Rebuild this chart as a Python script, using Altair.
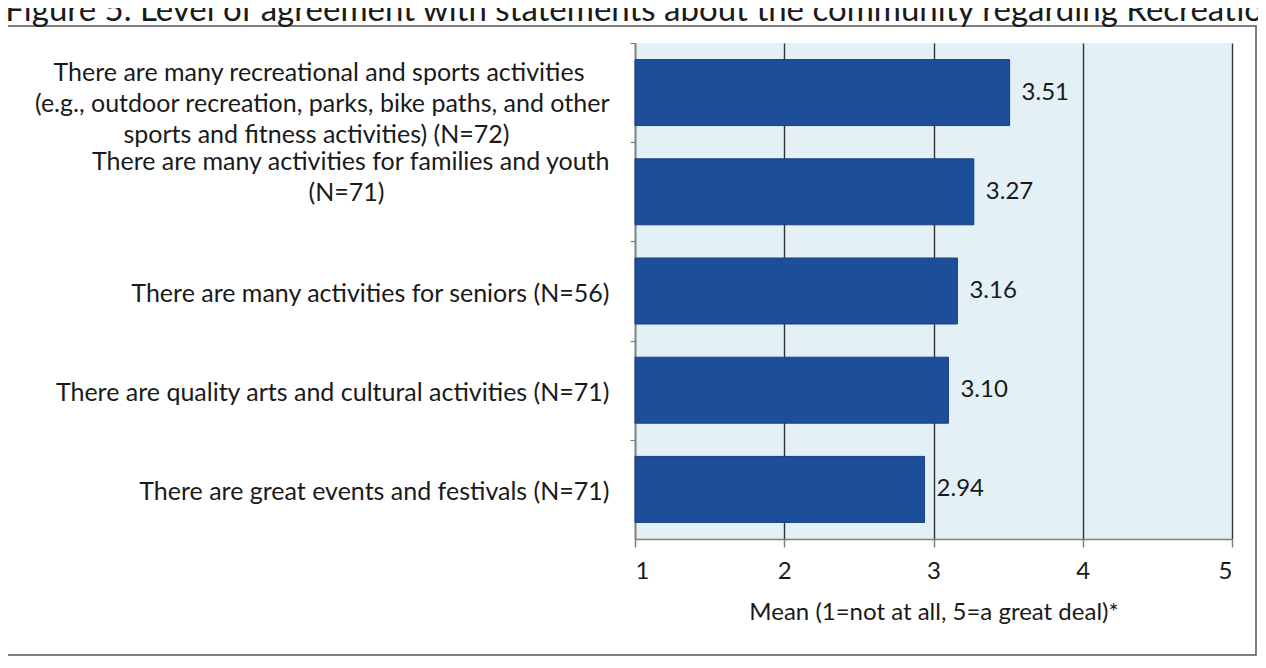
import json
import altair as alt
import pandas as pd

# ---- data ----
statements = [
    "There are many recreational and sports activities\n(e.g., outdoor recreation, parks, bike paths, and other\nsports and fitness activities) (N=72)",
    "There are many activities for families and youth\n(N=71)",
    "There are many activities for seniors (N=56)",
    "There are quality arts and cultural activities (N=71)",
    "There are great events and festivals (N=71)",
]
means = [3.51, 3.27, 3.16, 3.10, 2.94]
value_labels = ["3.51", "3.27", "3.16", "3.10", "2.94"]
x_ticks = [1, 2, 3, 4, 5]
title_text = "Figure 5. Level of agreement with statements about the community regarding Recreation"
x_title = "Mean (1=not at all, 5=a great deal)*"

df = pd.DataFrame({"statement": statements, "mean": means, "label": value_labels})

# ---- styling ----
FONT = "Lato"
TEXT = "#1a1a1a"
W, H = 597, 496
PAD_L, PAD_T, PAD_R, PAD_B = 627, 35, 26, 118
STEP = H / 5

# vertical nudge of each label block, and en-space counts that centre the
# shorter lines of the wrapped labels (Excel-style centred wrapping)
label_off = [-20, -30, 2, 2, 2]
line_centering = [[2, 0, 8], [0, 18], [0], [0], [0]]
EN = "\u2002"
WJ = "\u2060"  # word joiner keeps the trailing en spaces from hanging


def first_line(s):
    return s.split("\n")[0]


def per_label(vals, default):
    conds = []
    for s, v in zip(statements, vals):
        conds.append({"test": f"indexof(datum.value, {json.dumps(first_line(s))}) == 0", "value": v})
    return {"condition": conds, "value": default}


expr = "split(datum.label, '\\n')"
for s, pads in reversed(list(zip(statements, line_centering))):
    lines = s.split("\n")
    if len(lines) < 2:
        continue
    padded = [ln + (EN * p + WJ if p else "") for ln, p in zip(lines, pads)]
    expr = (f"indexof(datum.label, {json.dumps(first_line(s))}) == 0 ? "
            f"{json.dumps(padded, ensure_ascii=False)} : ({expr})")

x_scale = alt.Scale(domain=[1, 5], zero=False, nice=False)
y_scale = alt.Scale(paddingInner=0.335, paddingOuter=0.1675)

x_axis = alt.Axis(
    values=x_ticks, format="d", grid=True, gridColor="#333333", gridWidth=1.4,
    domainColor="#808080", domainWidth=1.5, tickColor="#808080", tickSize=8, tickWidth=1.5,
    labelFont=FONT, labelFontSize=24, labelColor=TEXT, labelPadding=12,
    title=x_title, titleFont=FONT, titleFontSize=24, titleFontWeight="normal",
    titleColor=TEXT, titlePadding=17,
)
y_axis = alt.Axis(
    title=None, grid=False, domainColor="#808080", domainWidth=1.5,
    tickColor="#808080", tickSize=5, tickWidth=1.2, tickOffset=-STEP / 2,
    labelFont=FONT, labelFontSize=25, labelColor=TEXT, labelLimit=2000,
    labelAlign="right", labelBaseline="middle", labelLineHeight=31,
    labelPadding=21, labelOffset=per_label([v + STEP / 2 for v in label_off], 0),
    labelExpr=expr,
)

base = alt.Chart(df)
bars = base.mark_bar(color="#1c4e99", stroke="#163f7e", strokeWidth=1).encode(
    y=alt.Y("statement:N", sort=statements, scale=y_scale, axis=y_axis),
    x=alt.X("mean:Q", scale=x_scale, axis=x_axis),
    x2=alt.datum(1),
)
texts = base.mark_text(align="left", baseline="middle", dx=12, font=FONT,
                       fontSize=24, color=TEXT).encode(
    y=alt.Y("statement:N", sort=statements),
    x=alt.X("mean:Q"),
    text="label:N",
)
frame = alt.Chart(alt.Data(values=[{}])).mark_rect(
    fillOpacity=0, stroke="#555555", strokeWidth=1.5
).encode(
    x=alt.value(-629), x2=alt.value(621), y=alt.value(-17), y2=alt.value(612)
)

chart = alt.layer(frame, bars, texts).properties(
    width=W, height=H,
    background="white",
    title=alt.TitleParams(title_text, anchor="start", dx=0, offset=-3,
                          font=FONT, fontSize=33, fontWeight="normal", color=TEXT),
    autosize=alt.AutoSizeParams(type="none"),
    padding={"left": PAD_L, "top": PAD_T, "right": PAD_R, "bottom": PAD_B},
).configure_view(fill="#e3f1f6", strokeWidth=0)

chart.save("out.html", embed_options={"renderer": "svg", "actions": False})
